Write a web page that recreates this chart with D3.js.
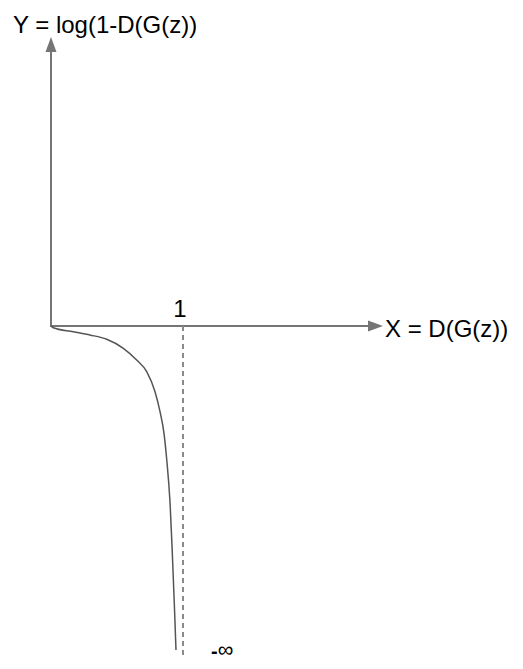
<!DOCTYPE html>
<html><head><meta charset="utf-8">
<script src="https://cdn.jsdelivr.net/npm/d3@7"></script>
<style>html,body{margin:0;padding:0;background:#fff;}svg{display:block;}</style>
</head><body>
<script>
// Data: X = D(G(z)), Y = log(1-D(G(z))) (hand-drawn shape)
const curveX = [0, 0.017, 0.169, 0.295, 0.422, 0.548, 0.649, 0.725, 0.788, 0.826, 0.856, 0.877, 0.902, 0.919, 0.934, 0.947];
const curveY = [0, -0.017, -0.057, -0.09, -0.133, -0.223, -0.34, -0.457, -0.657, -0.857, -1.073, -1.34, -1.77, -2.27, -2.77, -3.24];
const xTicks = [1];
const xAxisMax = 2.515;
const yAxisMax = 2.89;
const yAxisMin = -3.31;
const yLabel = "Y = log(1-D(G(z))";
const xLabel = "X = D(G(z))";
const bottomLabel = ["-", "∞"];

const W = 523, H = 669;
const svg = d3.select("body").append("svg").attr("width", W).attr("height", H);
const x = d3.scaleLinear().domain([0, 1]).range([51, 183]);
const y = d3.scaleLinear().domain([0, 1]).range([326, 226]);
const font = "'Liberation Sans', Arial, sans-serif";
const axisColor = "#757575";

// Axes lines
svg.append("line").attr("x1", x(0)).attr("x2", x(0)).attr("y1", y(0)).attr("y2", y(yAxisMax) + 12)
  .attr("stroke", axisColor).attr("stroke-width", 2);
svg.append("line").attr("x1", x(0) - 1).attr("x2", x(xAxisMax) - 12).attr("y1", y(0)).attr("y2", y(0))
  .attr("stroke", axisColor).attr("stroke-width", 2);
// arrowheads
const tipY = [x(0), y(yAxisMax)];
svg.append("path").attr("d", `M${tipY[0]},${tipY[1]} L${tipY[0]-5.5},${tipY[1]+15} L${tipY[0]+5.5},${tipY[1]+15} Z`).attr("fill", axisColor);
const tipX = [x(xAxisMax), y(0)];
svg.append("path").attr("d", `M${tipX[0]},${tipX[1]} L${tipX[0]-15},${tipX[1]-5.5} L${tipX[0]-15},${tipX[1]+5.5} Z`).attr("fill", axisColor);

// dashed line at x=1
xTicks.forEach(t => {
  svg.append("line").attr("x1", x(t)).attr("x2", x(t)).attr("y1", y(0)).attr("y2", y(yAxisMin))
    .attr("stroke", "#8a8a8a").attr("stroke-width", 2).attr("stroke-dasharray", "5,4");
  svg.append("text").attr("x", x(t) - 3).attr("y", 317).attr("text-anchor", "middle")
    .attr("font-family", font).attr("font-size", 24).attr("fill", "#000").text(t);
});

// curve
const pts = curveX.map((v, i) => [v, curveY[i]]);
svg.append("path").datum(pts)
  .attr("d", d3.line().x(d => x(d[0])).y(d => y(d[1])).curve(d3.curveMonotoneX))
  .attr("fill", "none").attr("stroke", "#555").attr("stroke-width", 1.5);

// labels
svg.append("text").attr("x", 13).attr("y", 33).attr("font-family", font).attr("font-size", 24).attr("fill", "#000").text(yLabel);
svg.append("text").attr("x", 385).attr("y", 337).attr("font-family", font).attr("font-size", 24).attr("fill", "#000").text(xLabel);
const bl = svg.append("text").attr("x", 211).attr("y", 658).attr("font-family", font).attr("fill", "#000");
bl.append("tspan").attr("font-size", 20).attr("font-weight", "bold").text(bottomLabel[0]);
bl.append("tspan").attr("font-size", 22).attr("dy", -1).text(bottomLabel[1]);
</script>
</body></html>
